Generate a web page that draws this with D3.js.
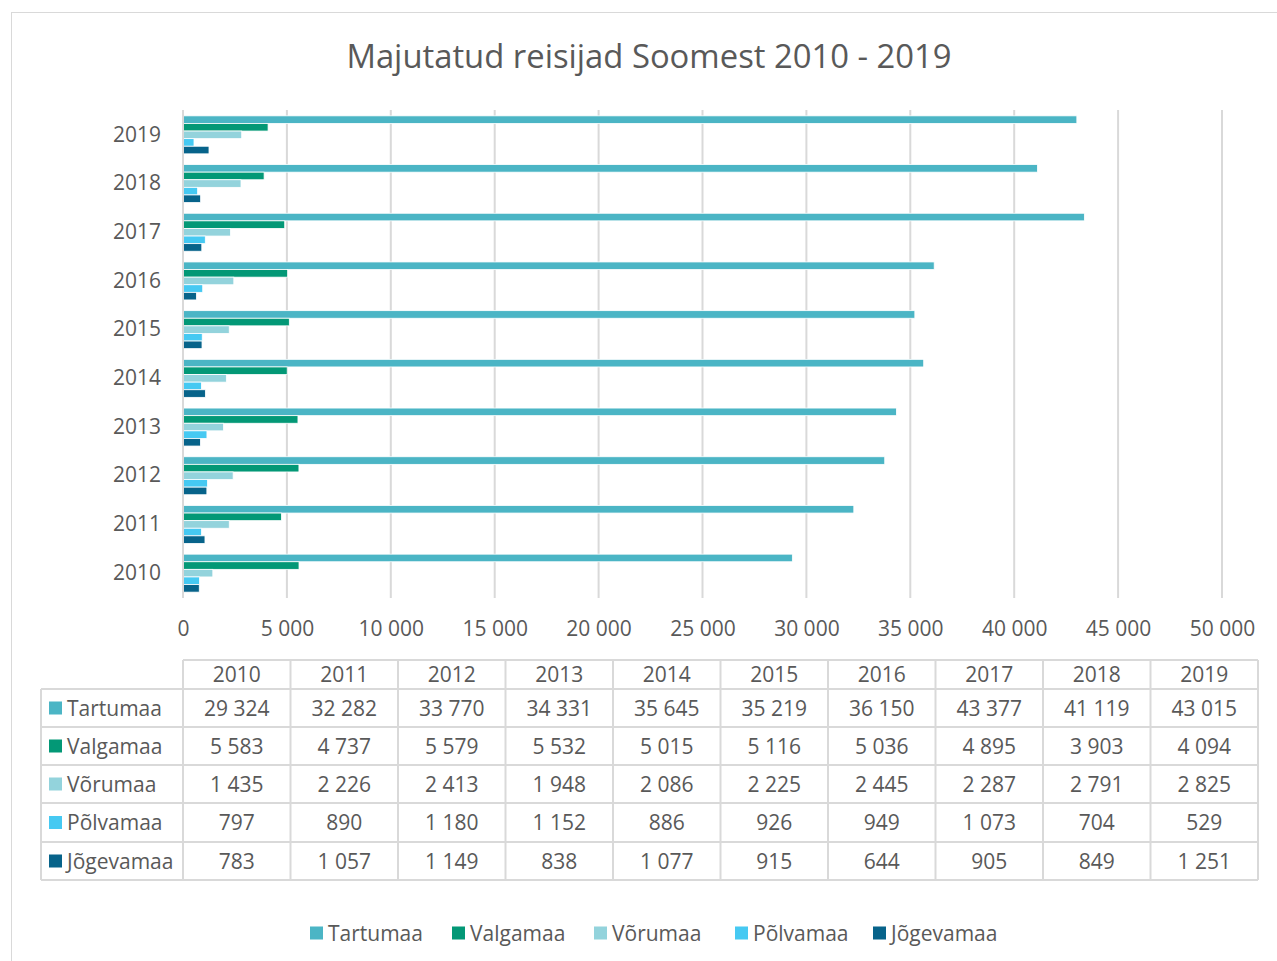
<!DOCTYPE html>
<html>
<head>
<meta charset="utf-8">
<script src="https://cdn.jsdelivr.net/npm/d3@7"></script>
<style>
  body { margin: 0; background: #fff; }
  svg text { font-family: "Open Sans", sans-serif; fill: #595959; }
</style>
</head>
<body>
<svg id="chart" width="1277" height="961"></svg>
<script>
// data
const years = ["2010", "2011", "2012", "2013", "2014", "2015", "2016", "2017", "2018", "2019"];
const regions = ["Tartumaa", "Valgamaa", "Võrumaa", "Põlvamaa", "Jõgevamaa"];
const colors = ["#4bb5c5", "#039876", "#93d3dc", "#46c9f2", "#07638a"];
const tartumaa = [29324, 32282, 33770, 34331, 35645, 35219, 36150, 43377, 41119, 43015];
const valgamaa = [5583, 4737, 5579, 5532, 5015, 5116, 5036, 4895, 3903, 4094];
const vorumaa = [1435, 2226, 2413, 1948, 2086, 2225, 2445, 2287, 2791, 2825];
const polvamaa = [797, 890, 1180, 1152, 886, 926, 949, 1073, 704, 529];
const jogevamaa = [783, 1057, 1149, 838, 1077, 915, 644, 905, 849, 1251];
const xTicks = [0, 5000, 10000, 15000, 20000, 25000, 30000, 35000, 40000, 45000, 50000];

const series = [tartumaa, valgamaa, vorumaa, polvamaa, jogevamaa];

const fmt = d3.formatLocale({ decimal: ",", thousands: "\u2009", grouping: [3], currency: ["", ""] }).format(",d");
const fmtSp = v => fmt(v).replace(/\u2009/g, " ");

const svg = d3.select("#chart");
const grid = "#d9d9d9";
const fs = "21px";

// outer frame
svg.append("rect")
  .attr("x", 11.5).attr("y", 12.5)
  .attr("width", 1300).attr("height", 1000)
  .attr("fill", "none").attr("stroke", grid);

// title
svg.append("text")
  .attr("x", 649).attr("y", 68)
  .attr("text-anchor", "middle")
  .style("font-size", "32.8px")
  .text("Majutatud reisijad Soomest 2010 - 2019");

// scales
const x = d3.scaleLinear().domain([0, 50000]).range([183, 1222]);
const y = d3.scaleBand().domain(years.slice().reverse()).range([110.5, 597.5]).paddingInner(0.22).paddingOuter(0.11);
const ySub = d3.scaleBand().domain(regions).range([0, y.bandwidth()]);

// gridlines
svg.append("g").selectAll("line")
  .data(xTicks.slice(1))
  .join("line")
  .attr("x1", d => x(d)).attr("x2", d => x(d))
  .attr("y1", 110).attr("y2", 598)
  .attr("stroke", grid).attr("stroke-width", 2);

// bars
const groups = svg.append("g").selectAll("g")
  .data(years)
  .join("g")
  .attr("transform", d => `translate(0,${y(d)})`);

groups.selectAll("rect")
  .data((yr, i) => regions.map((r, j) => ({ region: r, value: series[j][i], color: colors[j] })))
  .join("rect")
  .attr("x", x(0))
  .attr("y", d => ySub(d.region))
  .attr("width", d => x(d.value) - x(0))
  .attr("height", ySub.bandwidth())
  .attr("fill", d => d.color)
  .attr("stroke", "#fff").attr("stroke-width", 0.8);

// vertical axis line
svg.append("line")
  .attr("x1", x(0)).attr("x2", x(0))
  .attr("y1", 110).attr("y2", 598)
  .attr("stroke", grid).attr("stroke-width", 2);

// y labels
const yAxis = d3.axisLeft(y).tickSize(0).tickPadding(22);
const yg = svg.append("g").attr("transform", `translate(${x(0)},0)`).call(yAxis);
yg.select(".domain").remove();
yg.selectAll("text").style("font-size", fs).style("font-family", "Open Sans").attr("fill", "#595959");

// x labels
const xAxis = d3.axisBottom(x).tickValues(xTicks).tickFormat(fmtSp).tickSize(0).tickPadding(13);
const xg = svg.append("g").attr("transform", "translate(0,608)").call(xAxis);
xg.select(".domain").remove();
xg.selectAll("text").style("font-size", fs).style("font-family", "Open Sans").attr("fill", "#595959");

// data table
const tLeft = 183, tRight = 1258, labelLeft = 41;
const colW = (tRight - tLeft) / years.length;
const rowTops = [660, 689, 727, 765, 803, 842, 880];

const table = svg.append("g");
// horizontal lines
rowTops.forEach((ry, i) => {
  table.append("line")
    .attr("x1", i === 0 ? tLeft : labelLeft).attr("x2", tRight)
    .attr("y1", ry).attr("y2", ry)
    .attr("stroke", grid).attr("stroke-width", 2);
});
// vertical lines
d3.range(years.length + 1).forEach(k => {
  table.append("line")
    .attr("x1", tLeft + k * colW).attr("x2", tLeft + k * colW)
    .attr("y1", rowTops[0]).attr("y2", rowTops[6])
    .attr("stroke", grid).attr("stroke-width", 2);
});
table.append("line")
  .attr("x1", labelLeft).attr("x2", labelLeft)
  .attr("y1", rowTops[1]).attr("y2", rowTops[6])
  .attr("stroke", grid).attr("stroke-width", 2);

// header
table.selectAll("text.hdr")
  .data(years)
  .join("text")
  .attr("class", "hdr")
  .attr("x", (d, i) => tLeft + (i + 0.5) * colW)
  .attr("y", (rowTops[0] + rowTops[1]) / 2 + 7.5)
  .attr("text-anchor", "middle")
  .style("font-size", fs)
  .text(d => d);

// rows
regions.forEach((r, j) => {
  const cy = (rowTops[j + 1] + rowTops[j + 2]) / 2;
  table.append("rect")
    .attr("x", 49).attr("y", cy - 6.5)
    .attr("width", 13).attr("height", 13)
    .attr("fill", colors[j]);
  table.append("text")
    .attr("x", 67).attr("y", cy + 7.5)
    .style("font-size", fs)
    .text(r);
  table.selectAll(null)
    .data(series[j])
    .join("text")
    .attr("x", (d, i) => tLeft + (i + 0.5) * colW)
    .attr("y", cy + 7.5)
    .attr("text-anchor", "middle")
    .style("font-size", fs)
    .text(d => fmtSp(d));
});

// legend
const legendX = [310, 452, 594, 735, 873];
const legend = svg.append("g").selectAll("g")
  .data(regions)
  .join("g")
  .attr("transform", (d, i) => `translate(${legendX[i]},933)`);
legend.append("rect")
  .attr("x", 0).attr("y", -6.5)
  .attr("width", 13).attr("height", 13)
  .attr("fill", (d, i) => colors[i]);
legend.append("text")
  .attr("x", 18).attr("y", 7.5)
  .style("font-size", fs)
  .text(d => d);
</script>
</body>
</html>
